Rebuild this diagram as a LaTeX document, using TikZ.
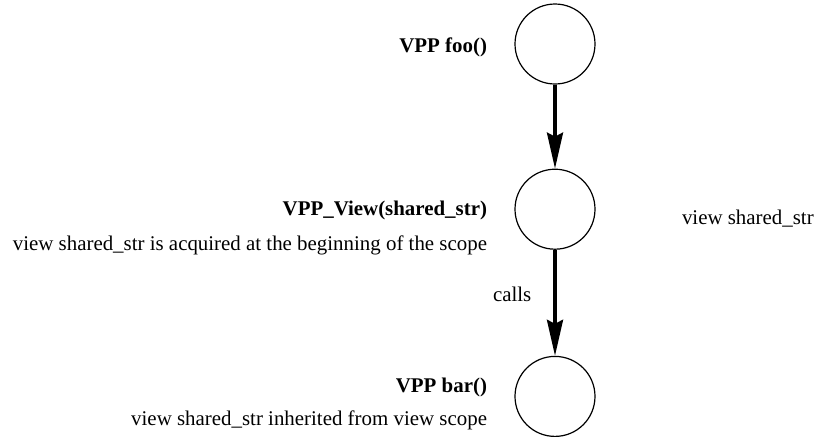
\documentclass[tikz,border=0pt]{standalone}
\usepackage{fontspec}
\setmainfont{Liberation Serif}
\usetikzlibrary{arrows.meta,positioning}
\tikzstyle{callnode} = [circle, draw, line width=0.6pt, minimum size=40pt, inner sep=0pt]
\tikzstyle{fname} = [font=\fontsize{10.45}{12.5}\selectfont\bfseries, inner sep=0pt]
\tikzstyle{note} = [font=\fontsize{10.45}{12.5}\selectfont, inner sep=0pt]
\tikzstyle{connector} = [line width=1.7pt, -{Stealth[length=18pt, width=8pt, inset=2pt]}]

\begin{document}
\begin{tikzpicture}[x=0.5pt, y=-0.5pt]
            \useasboundingbox (0,0) rectangle (815,436);
            \node (foo) [callnode] at (555,44) {};
            \node (view) [callnode, below=42pt of foo] {};
            \node (bar) [callnode, below=53pt of view] {};
            \node (foolbl) [fname, left=13.5pt of foo, yshift=-1.5pt] {VPP foo()};
            \node (viewlbl) [fname, left=13.5pt of view, yshift=-0.5pt] {VPP\_View(shared\_str)};
            \node (viewnote) [note, below left=7.5pt and 0pt of viewlbl.south east] {view shared\_str is acquired at the beginning of the scope};
            \node (barlbl) [fname, left=13.5pt of bar, yshift=4.5pt] {VPP bar()};
            \node (barnote) [note, below left=6.5pt and 0pt of barlbl.south east] {view shared\_str inherited from view scope};
            \node (viewobj) [note, right=43pt of view, yshift=-4.5pt] {view shared\_str};
            \draw [connector] (foo) -- (view);
            \draw [connector] (view) -- node[note, left=11pt, yshift=4pt] {calls} (bar);
        \end{tikzpicture}
\end{document}
